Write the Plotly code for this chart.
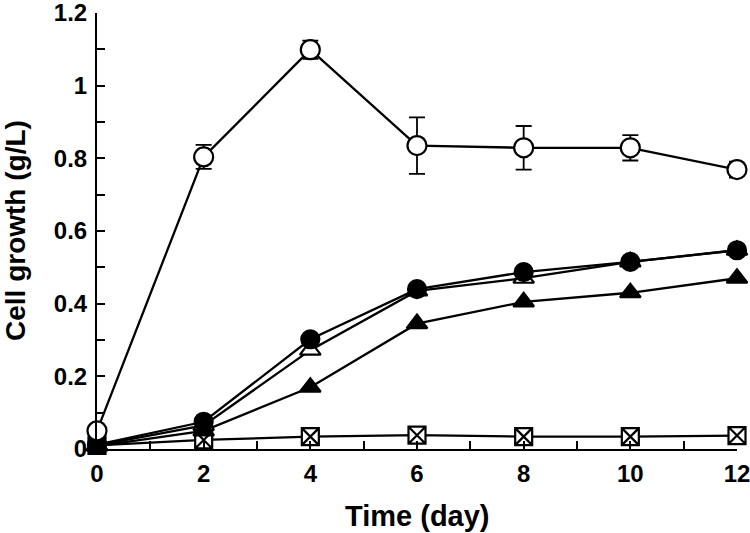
import plotly.graph_objects as go

days = [0, 2, 4, 6, 8, 10, 12]
open_circle = [0.05, 0.804, 1.099, 0.835, 0.829, 0.829, 0.769]
open_circle_err = [0.0, 0.033, 0.025, 0.078, 0.06, 0.035, 0.022]
filled_circle = [0.012, 0.075, 0.302, 0.44, 0.487, 0.515, 0.547]
open_triangle = [0.01, 0.065, 0.272, 0.435, 0.47, 0.515, 0.547]
filled_triangle = [0.008, 0.05, 0.17, 0.345, 0.405, 0.43, 0.47]
square_x = [0.01, 0.025, 0.034, 0.038, 0.034, 0.034, 0.037]
x_ticks = [0, 2, 4, 6, 8, 10, 12]
y_ticks = [0, 0.2, 0.4, 0.6, 0.8, 1, 1.2]
y_tick_labels = ["0", "0.2", "0.4", "0.6", "0.8", "1", "1.2"]
x_title = "Time (day)"
y_title = "Cell growth (g/L)"

fig = go.Figure()

def add(y, symbol, fill, err=None, size=17):
    tr = dict(x=days, y=y, mode="lines+markers",
              line=dict(color="black", width=2.3),
              marker=dict(symbol=symbol, size=size, color=fill,
                          line=dict(color="black", width=2.2)),
              cliponaxis=False, showlegend=False)
    if err is not None:
        tr["error_y"] = dict(type="data", array=err, visible=True,
                             color="black", thickness=1.8, width=8)
    fig.add_trace(go.Scatter(**tr))

add(square_x, "square-x", "white", size=17)
add(filled_triangle, "triangle-up", "black", size=18)
add(open_triangle, "triangle-up", "white", size=18)
add(filled_circle, "circle", "black", size=18)
add(open_circle, "circle", "white", err=open_circle_err, size=19)

family = "Liberation Sans, Arial, sans-serif"

fig.update_layout(
    width=750, height=533,
    paper_bgcolor="white", plot_bgcolor="white",
    margin=dict(l=97, r=13, t=13, b=84),
    font=dict(family=family, size=24, color="black"),
)
fig.update_xaxes(
    range=[0, 12], tickvals=x_ticks, ticktext=[f"<b>{t}</b>" for t in x_ticks],
    showline=True, linecolor="black", linewidth=2, showgrid=False, zeroline=False,
    ticks="inside", ticklen=8, tickwidth=1.8, tickcolor="black",
    minor=dict(dtick=1, ticks="inside", ticklen=8, tickwidth=1.8, tickcolor="black"),
    tickfont=dict(size=24), automargin=False, ticklabelstandoff=2,
    ticklabeloverflow="allow",
)
fig.update_yaxes(
    range=[0, 1.2], tickvals=y_ticks, ticktext=[f"<b>{t}</b>" for t in y_tick_labels],
    showline=True, linecolor="black", linewidth=2, showgrid=False, zeroline=False,
    ticks="inside", ticklen=8, tickwidth=1.8, tickcolor="black",
    minor=dict(dtick=0.1, ticks="inside", ticklen=8, tickwidth=1.8, tickcolor="black"),
    tickfont=dict(size=24), automargin=False, ticklabelstandoff=3,
    ticklabeloverflow="allow",
)
fig.add_annotation(text=f"<b>{x_title}</b>", xref="paper", yref="paper",
                   x=0.5, y=0, xanchor="center", yanchor="middle", yshift=-67,
                   showarrow=False, font=dict(size=29))
fig.add_annotation(text=f"<b>{y_title}</b>", xref="paper", yref="paper",
                   x=0, y=0.5, xanchor="center", yanchor="middle", xshift=-82, yshift=0,
                   textangle=-90, showarrow=False, font=dict(size=28))

fig.write_html("out.html", config={"displayModeBar": False},
               post_script="document.body.style.margin='0';")
